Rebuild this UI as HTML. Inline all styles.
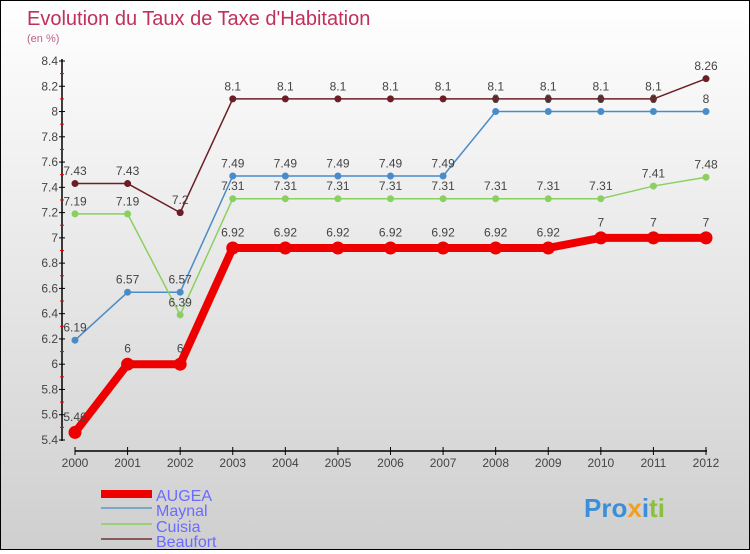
<!DOCTYPE html>
<html><head><meta charset="utf-8"><style>
html,body{margin:0;padding:0}
body{width:750px;height:550px;overflow:hidden;font-family:"Liberation Sans",sans-serif}
#wrap{position:relative;width:748px;height:548px;border:1px solid #000;background:linear-gradient(#ffffff,#cfcfcf)}
</style></head><body>
<div id="wrap">
<svg id="chart" width="748" height="548" xmlns="http://www.w3.org/2000/svg">
<text x="26" y="24" font-size="20" fill="#c0305a">Evolution du Taux de Taxe d'Habitation</text>
<text x="26" y="41" font-size="11" fill="#c0608a">(en %)</text>
<g id="axes"></g><g id="series"></g>
<g id="legend">
<rect x="100" y="489" width="51" height="8" fill="#e00"/>
<text x="155" y="500" font-size="16" fill="#6b6bff">AUGEA</text>
<rect x="100" y="506" width="51" height="2" fill="#7ba7c9"/>
<text x="155" y="515" font-size="16" fill="#6b6bff">Maynal</text>
<rect x="100" y="522" width="51" height="2" fill="#9ad27a"/>
<text x="155" y="531" font-size="16" fill="#6b6bff">Cuisia</text>
<rect x="100" y="537" width="51" height="2" fill="#8a5a5a"/>
<text x="155" y="546" font-size="16" fill="#6b6bff">Beaufort</text>
</g>
<text x="583" y="516" font-size="26" font-weight="bold"><tspan fill="#3a8fd8">Pro</tspan><tspan fill="#f0a020">x</tspan><tspan fill="#3a8fd8">i</tspan><tspan fill="#8ac040">ti</tspan></text>
</svg>
</div>
<script>
const years=[2000,2001,2002,2003,2004,2005,2006,2007,2008,2009,2010,2011,2012];
const augea=[5.46,6,6,6.92,6.92,6.92,6.92,6.92,6.92,6.92,7,7,7];
const maynal=[6.19,6.57,6.57,7.49,7.49,7.49,7.49,7.49,8,8,8,8,8];
const cuisia=[7.19,7.19,6.39,7.31,7.31,7.31,7.31,7.31,7.31,7.31,7.31,7.41,7.48];
const beaufort=[7.43,7.43,7.2,8.1,8.1,8.1,8.1,8.1,8.1,8.1,8.1,8.1,8.26];
const yTicks=[5.4,5.6,5.8,6,6.2,6.4,6.6,6.8,7,7.2,7.4,7.6,7.8,8,8.2,8.4];
const NS="http://www.w3.org/2000/svg";
const X=i=>74+i*(705-74)/(years.length-1);
const Y=v=>439-(v-5.4)*(439-60)/3;
function mk(t,a,p){const e=document.createElementNS(NS,t);for(const k in a)e.setAttribute(k,a[k]);p.appendChild(e);return e;}
const ax=document.getElementById('axes');
let l=mk('line',{x1:61,y1:58,x2:61,y2:440,stroke:'#000','stroke-width':1.5},ax);


yTicks.forEach((v,i)=>{
 mk('line',{x1:58,x2:64,y1:Y(v),y2:Y(v),stroke:'#000'},ax);
 if(i<yTicks.length-1) mk('line',{x1:59,x2:63,y1:Y(v+0.1),y2:Y(v+0.1),stroke:'#e00'},ax);
 const t=mk('text',{x:57,y:Y(v)+4,'text-anchor':'end','font-size':12,fill:'#444'},ax);
 t.textContent=String(v);
 
 
});
l=mk('line',{x1:74,y1:450,x2:706,y2:450,stroke:'#000','stroke-width':1.5},ax);


years.forEach((yr,i)=>{
 mk('line',{x1:X(i),x2:X(i),y1:446,y2:454,stroke:'#000'},ax);
 const t=mk('text',{x:X(i),y:466,'text-anchor':'middle','font-size':12,fill:'#444'},ax);
 t.textContent=yr;
 
 
});
const sg=document.getElementById('series');
function draw(vals,color,w,r,name){
 const g=mk('g',{},sg);
 
 
 const p=mk('polyline',{points:vals.map((v,i)=>X(i)+','+Y(v)).join(' '),fill:'none',stroke:color,'stroke-width':w,'stroke-linejoin':'round'},g);
 
 
 vals.forEach((v,i)=>{
  const c=mk('circle',{cx:X(i),cy:Y(v),r:r,fill:color},g);
  
  
  const t=mk('text',{x:X(i),y:Y(v)-(r+5),'text-anchor':'middle','font-size':12,fill:'#444'},g);
  t.textContent=String(v);
  
  
 });
}
draw(beaufort,'#6b1f25',1.5,3.5,'beaufort');
draw(maynal,'#4a8cc8',1.5,3.5,'maynal');
draw(cuisia,'#8ad060',1.5,3.5,'cuisia');
draw(augea,'#ee0000',8,6.5,'augea');
</script>
</body></html>
